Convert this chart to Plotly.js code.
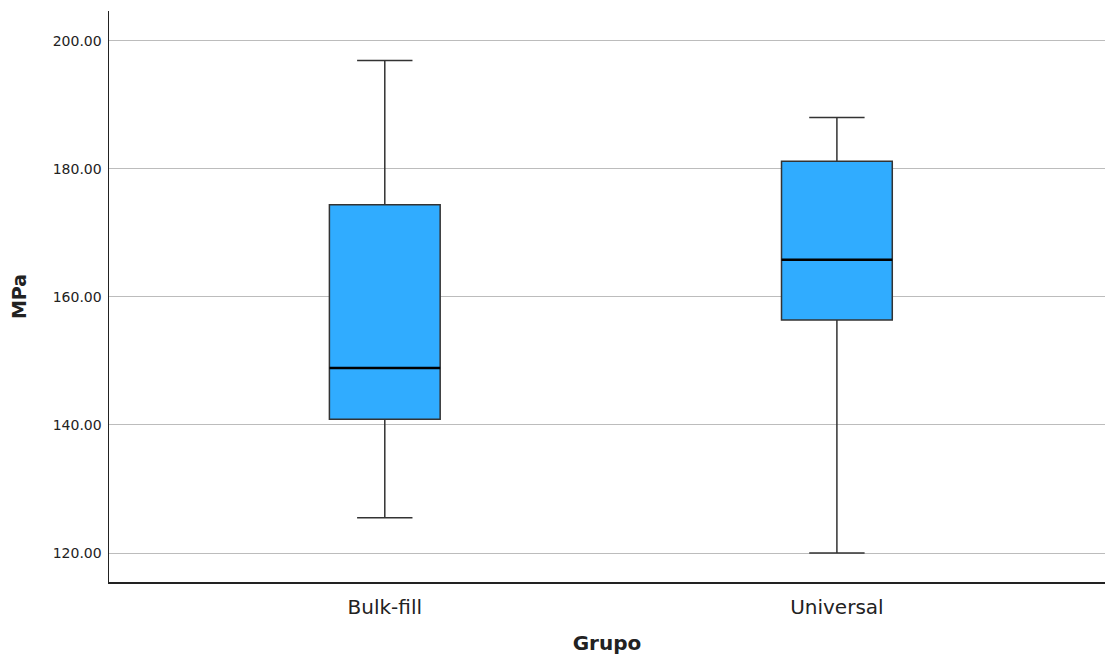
<!DOCTYPE html>
<html>
<head>
<meta charset="utf-8">
<script src="https://cdn.plot.ly/plotly-3.0.1.min.js"></script>
<style>html,body{margin:0;padding:0;background:#fff;}#chart{width:1105px;height:662px;}</style>
</head>
<body>
<div id="chart"></div>
<script>
const categories = ["Bulk-fill", "Universal"];
const lowerWhisker = [125.5, 120.0];
const q1Values = [140.9, 156.4];
const medianValues = [148.9, 165.8];
const q3Values = [174.4, 181.2];
const upperWhisker = [196.9, 188.0];
const yTickValues = [120, 140, 160, 180, 200];

const positions = categories.map((c, i) => i);
const boxWidth = 0.245;

const boxTrace = {
  type: "box",
  x: positions,
  q1: q1Values,
  median: medianValues,
  q3: q3Values,
  lowerfence: lowerWhisker,
  upperfence: upperWhisker,
  width: boxWidth,
  whiskerwidth: 0.5,
  fillcolor: "#30acff",
  line: { color: "#333333", width: 1.5 },
  boxpoints: false,
  hoverinfo: "skip",
  showlegend: false
};

const medX = [], medY = [];
positions.forEach((p, i) => {
  medX.push(p - boxWidth / 2, p + boxWidth / 2, null);
  medY.push(medianValues[i], medianValues[i], null);
});
const medianTrace = {
  type: "scatter",
  mode: "lines",
  x: medX,
  y: medY,
  line: { color: "#000000", width: 2.5 },
  hoverinfo: "skip",
  showlegend: false
};

const layout = {
  width: 1105,
  height: 662,
  margin: { l: 109, r: 0, t: 11, b: 80 },
  paper_bgcolor: "#ffffff",
  plot_bgcolor: "#ffffff",
  font: { family: "DejaVu Sans, sans-serif", color: "#222222" },
  showlegend: false,
  xaxis: {
    range: [-0.61, 1.593],
    tickvals: positions,
    ticktext: categories,
    tickfont: { size: 20, color: "#222222" },
    showgrid: false,
    zeroline: false,
    showline: true,
    linecolor: "#222222",
    linewidth: 1.5,
    ticks: "outside",
    ticklen: 6,
    tickcolor: "rgba(0,0,0,0)",
    title: { text: "Grupo", font: { size: 20, color: "#222222", family: "DejaVu Sans, sans-serif", weight: "bold" }, standoff: 18 },
    automargin: false
  },
  yaxis: {
    range: [115.47, 204.65],
    tickvals: yTickValues,
    tickformat: ".2f",
    tickfont: { size: 14, color: "#222222" },
    showgrid: true,
    gridcolor: "#bcbcbc",
    gridwidth: 1,
    zeroline: false,
    showline: true,
    linecolor: "#222222",
    linewidth: 1.5,
    ticks: "outside",
    ticklen: 3,
    tickcolor: "rgba(0,0,0,0)",
    title: { text: "MPa", font: { size: 19, color: "#222222", family: "DejaVu Sans, sans-serif", weight: "bold" }, standoff: 21 },
    automargin: false
  }
};

Plotly.newPlot("chart", [boxTrace, medianTrace], layout, { displayModeBar: false, staticPlot: true });
</script>
</body>
</html>
